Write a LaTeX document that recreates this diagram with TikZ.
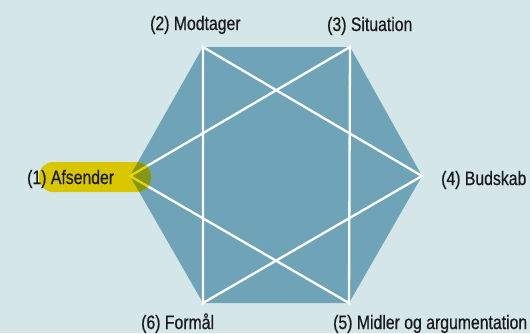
\documentclass[tikz,border=0pt]{standalone}
\usepackage{fontspec}
\setmainfont{Liberation Sans}[FakeStretch=0.81,FakeBold=0.5]
\definecolor{bg}{HTML}{D4E6E8}
\definecolor{hexfill}{HTML}{6FA3B7}
\definecolor{hilite}{HTML}{D8C700}
\definecolor{olive}{HTML}{86961A}
\definecolor{ink}{HTML}{1A1A1A}
\begin{document}
\begin{tikzpicture}[x=1pt,y=-1pt,
  lbl/.style={inner sep=0pt, text=ink, font=\fontsize{19.5}{22}\selectfont, anchor=base west},
  star/.style={draw=white, line width=2.3pt, line join=miter}]
\useasboundingbox (0,0) rectangle (530,333);
\fill[bg] (0,0) rectangle (530,333);
% hexagon vertices
\coordinate (v1) at (130,176);
\coordinate (v2) at (203,47);
\coordinate (v3) at (350,47);
\coordinate (v4) at (422,176);
\coordinate (v5) at (349,303);
\coordinate (v6) at (203,303);
\fill[hexfill] (v1) -- (v2) -- (v3) -- (v4) -- (v5) -- (v6) -- cycle;
% star of two triangles
\draw[star] (v2) -- (v4) -- (v6) -- cycle;
\draw[star] (v3) -- (v1) -- (v5) -- cycle;
% highlight box
\fill[hilite, rounded corners=14pt] (39,162) rectangle (151,192);
\begin{scope}
  \clip[rounded corners=14pt] (39,162) rectangle (151,192);
  \fill[olive] (v1) -- (v2) -- (v3) -- (v4) -- (v5) -- (v6) -- cycle;
  \draw[star, draw=hilite!70!yellow] (v3) -- (v1) -- (v5);
\end{scope}
% labels
\node[lbl] (l1) at (27,184) {(1) Afsender};
\node[lbl] (l2) at (150,30) {(2) Modtager};
\node[lbl] (l3) at (327,31) {(3) Situation};
\node[lbl] (l4) at (441,185) {(4) Budskab};
\node[lbl] (l5) at (333,329) {(5) Midler og argumentation};
\node[lbl] (l6) at (141,329) {(6) Formål};
\end{tikzpicture}
\end{document}
